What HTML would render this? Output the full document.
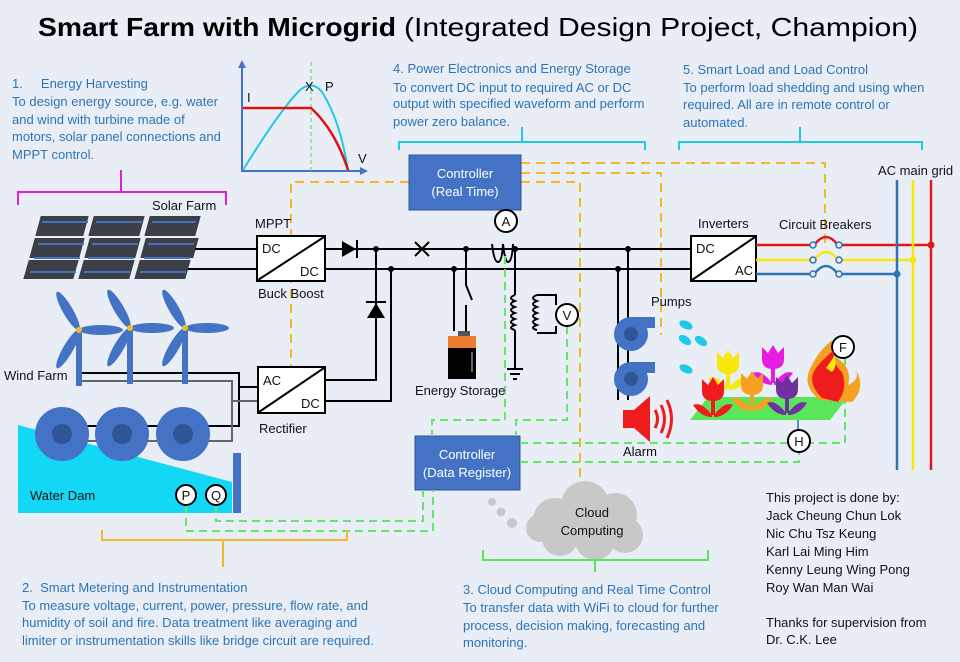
<!DOCTYPE html>
<html><head><meta charset="utf-8"><style>
html,body{margin:0;padding:0;background:#e9eef6;}
svg{display:block;font-family:"Liberation Sans",sans-serif;}
.t{fill:#2e74b5;font-size:13px;}
.k{fill:#111;font-size:13px;}
.w{fill:#fff;font-size:13px;}
</style></head><body>
<svg width="960" height="662" viewBox="0 0 960 662" xmlns="http://www.w3.org/2000/svg">
<defs>
<g id="tulip">
<path d="M-2,10 L2,10 L2,26 L-2,26Z"/>
<path d="M-1,26 Q-12,12 -20,16 Q-12,28 -1,28Z"/>
<path d="M1,26 Q12,12 20,16 Q12,28 1,28Z"/>
<path d="M-11,-10 L-11,2 Q-11,12 0,12 Q11,12 11,2 L11,-10 L5,-4 L0,-12 L-5,-4Z"/>
</g>
<g id="turb">
<rect x="-3" y="0" width="6" height="56" fill="#4472c4"/>
<ellipse cx="0" cy="-22" rx="5" ry="22" fill="#4472c4" transform="rotate(-30)"/>
<ellipse cx="0" cy="-22" rx="5" ry="22" fill="#4472c4" transform="rotate(90)"/>
<ellipse cx="0" cy="-22" rx="5" ry="22" fill="#4472c4" transform="rotate(210)"/>
<circle r="3" fill="#f0c020"/>
</g>
</defs>

<text x="38" y="36" font-size="26" font-weight="bold" fill="#000" textLength="358" lengthAdjust="spacingAndGlyphs">Smart Farm with Microgrid</text>
<text x="404" y="36" font-size="26" fill="#000" textLength="514" lengthAdjust="spacingAndGlyphs">(Integrated Design Project, Champion)</text>

<text class="t"><tspan x="12" y="88">1.&#160;&#160;&#160;&#160;&#160;Energy Harvesting</tspan><tspan x="12" y="106">To design energy source, e.g. water</tspan><tspan x="12" y="124">and wind with turbine made of</tspan><tspan x="12" y="141">motors, solar panel connections and</tspan><tspan x="12" y="159">MPPT control.</tspan></text>

<g>
<line x1="242" y1="172" x2="242" y2="64" stroke="#4472c4" stroke-width="2"/>
<path d="M238,68 L242,60 L246,68Z" fill="#4472c4"/>
<line x1="242" y1="171" x2="362" y2="171" stroke="#4472c4" stroke-width="2"/>
<path d="M360,167 L368,171 L360,175Z" fill="#4472c4"/>
<line x1="311" y1="62" x2="311" y2="172" stroke="#5ad35a" stroke-width="1" stroke-dasharray="4,3"/>
<path d="M243,170 Q280,110 300,90 Q312,80 322,92 Q340,120 348,170" fill="none" stroke="#22c8e8" stroke-width="2"/>
<path d="M243,108 L311,108 Q335,130 348,170" fill="none" stroke="#e01010" stroke-width="2.5"/>
<text x="247" y="102" class="k" font-size="13">I</text>
<text x="305" y="91" class="k" font-size="12">X</text>
<text x="325" y="91" class="k" font-size="13">P</text>
<text x="358" y="163" class="k" font-size="13">V</text>
</g>

<text class="t"><tspan x="393" y="73">4. Power Electronics and Energy Storage</tspan><tspan x="393" y="92">To convert DC input to required AC or DC</tspan><tspan x="393" y="108">output with specified waveform and perform</tspan><tspan x="393" y="126">power zero balance.</tspan></text>
<path d="M399,150 L399,142 L645,142 L645,150 M522,142 L522,127" fill="none" stroke="#22c8e8" stroke-width="2"/>

<text class="t"><tspan x="683" y="74">5. Smart Load and Load Control</tspan><tspan x="683" y="92">To perform load shedding and using when</tspan><tspan x="683" y="109">required. All are in remote control or</tspan><tspan x="683" y="127">automated.</tspan></text>
<path d="M679,150 L679,142 L922,142 L922,150 M800,142 L800,127" fill="none" stroke="#22c8e8" stroke-width="2"/>

<path d="M18,205 L18,192 L226,192 L226,205 M121,192 L121,170" fill="none" stroke="#e020d0" stroke-width="2"/>
<text x="152" y="210" class="k">Solar Farm</text>

<g fill="#3c3f45" stroke="#e9eef6" stroke-width="2">
<polygon points="40,215 90,215 84,237 34,237"/><polygon points="93,215 146,215 140,237 87,237"/><polygon points="149,215 202,215 196,237 143,237"/>
<polygon points="34,237 86,237 80,259 28,259"/><polygon points="89,237 142,237 136,259 83,259"/><polygon points="145,237 200,237 194,259 139,259"/>
<polygon points="28,259 80,259 74,280 22,280"/><polygon points="83,259 136,259 130,280 77,280"/><polygon points="139,259 192,259 186,280 133,280"/>
</g>
<g stroke="#4472c4" stroke-width="2">
<line x1="42" y1="222" x2="88" y2="222"/><line x1="96" y1="222" x2="142" y2="222"/><line x1="152" y1="222" x2="196" y2="222"/>
<line x1="38" y1="244" x2="84" y2="244"/><line x1="92" y1="244" x2="138" y2="244"/><line x1="148" y1="244" x2="194" y2="244"/>
<line x1="34" y1="258" x2="80" y2="258"/><line x1="88" y1="258" x2="134" y2="258"/><line x1="144" y1="258" x2="190" y2="258"/>
<line x1="30" y1="272" x2="76" y2="272"/><line x1="84" y1="272" x2="130" y2="272"/><line x1="140" y1="272" x2="186" y2="272"/>
</g>

<g fill="none" stroke="#f5b829" stroke-width="2" stroke-dasharray="9,6">
<path d="M409,182 L291,182 L291,367"/>
<path d="M521,182 L580,182 L580,492"/>
<path d="M506,173 L661,173 L661,335"/>
<path d="M521,163 L825,163 L825,244"/>
</g>

<!-- Water dam (behind wires) -->
<polygon points="18,425 232,482 232,513 18,513" fill="#12d8f5"/>
<rect x="233" y="453" width="8" height="60" fill="#4472c4"/>

<g fill="none" stroke="#000" stroke-width="2">
<line x1="195" y1="249" x2="257" y2="249"/>
<line x1="188" y1="269" x2="257" y2="269"/>
<line x1="325" y1="249" x2="691" y2="249"/>
<line x1="325" y1="269" x2="691" y2="269"/>
<path d="M376,249 L376,380 L325,380"/>
<path d="M391,269 L391,401 L325,401"/>
<path d="M82,373 L239,373 L239,426 L62,426"/>
<line x1="239" y1="387" x2="258" y2="387"/>
<path d="M454,269 L454,331"/>
<path d="M466,249 L466,285 L472,300"/>
<line x1="466" y1="305" x2="466" y2="331"/>
<path d="M515,249 L515,295"/>
<path d="M515,330 L515,368"/>
<path d="M628,249 L628,400"/>
<path d="M618,269 L618,400"/>
<path d="M537,295 L556,295 L556,305 M537,333 L556,333 L556,326"/>
</g>
<g fill="none" stroke="#666" stroke-width="2">
<path d="M82,381 L232,381 L232,441 L62,441"/>
<line x1="232" y1="401" x2="258" y2="401"/>
</g>
<g fill="#000">
<circle cx="376" cy="249" r="3"/><circle cx="391" cy="269" r="3"/><circle cx="466" cy="249" r="3"/><circle cx="454" cy="269" r="3"/>
<circle cx="515" cy="249" r="3"/><circle cx="628" cy="249" r="3"/><circle cx="618" cy="269" r="3"/>
</g>
<path d="M342,241 L356,249 L342,257Z" fill="#000"/><line x1="357" y1="240" x2="357" y2="258" stroke="#000" stroke-width="2"/>
<path d="M367,318 L376,303 L385,318Z" fill="#000"/><line x1="366" y1="302" x2="386" y2="302" stroke="#000" stroke-width="2"/>
<path d="M415,242 L429,256 M429,242 L415,256" stroke="#000" stroke-width="2"/>
<path d="M492,244 Q494,262 498,262 Q502,262 503,244 M503,244 Q505,262 508,262 Q512,262 513,244" fill="none" stroke="#000" stroke-width="2"/>
<path d="M515,295 q-8,3 0,6 q-8,3 0,6 q-8,3 0,6 q-8,3 0,6 q-8,3 0,6 q-8,3 0,5" fill="none" stroke="#000" stroke-width="2"/>
<path d="M537,295 q-8,3 0,6 q-8,3 0,6 q-8,3 0,6 q-8,3 0,6 q-8,3 0,6 q-8,3 0,5" fill="none" stroke="#000" stroke-width="2"/>
<path d="M507,369 L523,369 M510,374 L520,374 M513,379 L517,379" stroke="#000" stroke-width="2"/>

<g fill="#fff" stroke="#000" stroke-width="2">
<rect x="257" y="236" width="68" height="45"/><line x1="258" y1="280" x2="324" y2="237"/>
<rect x="258" y="367" width="67" height="46"/><line x1="259" y1="412" x2="324" y2="368"/>
<rect x="691" y="236" width="65" height="45"/><line x1="692" y1="280" x2="755" y2="237"/>
</g>
<text x="262" y="253" class="k">DC</text><text x="300" y="276" class="k">DC</text>
<text x="263" y="385" class="k">AC</text><text x="301" y="408" class="k">DC</text>
<text x="696" y="253" class="k">DC</text><text x="735" y="275" class="k">AC</text>
<text x="255" y="228" class="k">MPPT</text>
<text x="258" y="298" class="k">Buck Boost</text>
<text x="259" y="433" class="k">Rectifier</text>
<text x="698" y="228" class="k">Inverters</text>
<text x="779" y="229" class="k">Circuit Breakers</text>
<text x="878" y="175" class="k">AC main grid</text>

<g fill="none" stroke-width="2.5">
<path d="M756,245 L812,245 M840,245 L931,245" stroke="#e01818"/>
<path d="M815,244 Q826,230 837,244" stroke="#e01818"/>
<path d="M756,260 L812,260 M840,260 L913,260" stroke="#f5e80a"/>
<path d="M815,259 Q826,245 837,259" stroke="#f5e80a"/>
<path d="M756,274 L812,274 M840,274 L897,274" stroke="#2e74b5"/>
<path d="M815,273 Q826,259 837,273" stroke="#2e74b5"/>
<line x1="897" y1="180" x2="897" y2="470" stroke="#2e74b5"/>
<line x1="913" y1="180" x2="913" y2="470" stroke="#f5e80a"/>
<line x1="931" y1="180" x2="931" y2="470" stroke="#e01818"/>
</g>
<g fill="#e9eef6" stroke-width="1.5"><circle cx="813" cy="245" r="3" stroke="#2e74b5"/><circle cx="839" cy="245" r="3" stroke="#2e74b5"/><circle cx="813" cy="260" r="3" stroke="#2e74b5"/><circle cx="839" cy="260" r="3" stroke="#2e74b5"/><circle cx="813" cy="274" r="3" stroke="#2e74b5"/><circle cx="839" cy="274" r="3" stroke="#2e74b5"/></g>
<circle cx="931" cy="245" r="3.5" fill="#e01818"/><circle cx="913" cy="260" r="3.5" fill="#f5e80a"/><circle cx="897" cy="274" r="3.5" fill="#2e74b5"/>

<rect x="409" y="155" width="112" height="55" fill="#4472c4" stroke="#2f5597"/>
<text x="465" y="178" class="w" text-anchor="middle">Controller</text>
<text x="465" y="196" class="w" text-anchor="middle">(Real Time)</text>
<rect x="415" y="436" width="105" height="54" fill="#4472c4" stroke="#2f5597"/>
<text x="467" y="459" class="w" text-anchor="middle">Controller</text>
<text x="467" y="477" class="w" text-anchor="middle">(Data Register)</text>

<g fill="none" stroke="#66e566" stroke-width="2" stroke-dasharray="8,5">
<path d="M505,256 L505,420 L432,420 L432,436"/>
<path d="M567,326 L567,420 L516,420 L516,436"/>
<path d="M520,443 L845,443 L845,358"/>
<path d="M520,462 L799,462 L799,452"/>
<path d="M186,505 L186,531 L433,531 L433,490"/>
<path d="M216,505 L216,521 L423,521 L423,490"/>
</g>
<line x1="798" y1="420" x2="798" y2="430" stroke="#2e74b5" stroke-width="1.5"/>

<g fill="#fff" stroke="#000" stroke-width="2">
<circle cx="506" cy="221" r="11"/><circle cx="567" cy="315" r="11"/>
<circle cx="186" cy="495" r="10"/><circle cx="216" cy="495" r="10"/>
<circle cx="843" cy="347" r="11"/><circle cx="799" cy="441" r="11"/>
</g>
<text x="506" y="226" class="k" text-anchor="middle">A</text>
<text x="567" y="320" class="k" text-anchor="middle">V</text>
<text x="186" y="500" class="k" text-anchor="middle" font-size="12">P</text>
<text x="216" y="500" class="k" text-anchor="middle" font-size="12">Q</text>
<text x="843" y="352" class="k" text-anchor="middle">F</text>
<text x="799" y="446" class="k" text-anchor="middle">H</text>

<rect x="458" y="331" width="12" height="5" fill="#555"/>
<rect x="448" y="336" width="28" height="12" fill="#ed7d31"/>
<rect x="448" y="348" width="28" height="31" fill="#000"/>
<line x1="472" y1="352" x2="472" y2="372" stroke="#888" stroke-width="1.5"/>
<text x="415" y="395" class="k">Energy Storage</text>

<use href="#turb" x="79" y="330"/>
<use href="#turb" x="130" y="328"/>
<use href="#turb" x="185" y="328"/>
<text x="4" y="380" class="k">Wind Farm</text>

<g fill="#4472c4"><circle cx="62" cy="434" r="27"/><circle cx="122" cy="434" r="27"/><circle cx="183" cy="434" r="27"/></g>
<g fill="#2f5597"><circle cx="62" cy="434" r="10"/><circle cx="122" cy="434" r="10"/><circle cx="183" cy="434" r="10"/></g>
<g stroke-width="2"><line x1="89" y1="426" x2="95" y2="426" stroke="#000"/><line x1="149" y1="426" x2="156" y2="426" stroke="#000"/><line x1="89" y1="441" x2="95" y2="441" stroke="#666"/><line x1="149" y1="441" x2="156" y2="441" stroke="#666"/></g>
<text x="30" y="500" class="k">Water Dam</text>

<g fill="#4472c4">
<circle cx="631" cy="334" r="17"/><rect x="631" y="317" width="24" height="11"/>
<circle cx="631" cy="379" r="17"/><rect x="631" y="362" width="24" height="11"/>
</g>
<g fill="#2f5597"><circle cx="631" cy="334" r="7"/><circle cx="631" cy="379" r="7"/></g>
<text x="651" y="306" class="k">Pumps</text>
<g fill="#22c8e8">
<ellipse cx="686" cy="325" rx="7" ry="4" transform="rotate(25 686 325)"/>
<ellipse cx="685" cy="340" rx="7" ry="4" transform="rotate(35 685 340)"/>
<ellipse cx="701" cy="341" rx="7" ry="4" transform="rotate(35 701 341)"/>
<ellipse cx="686" cy="369" rx="7" ry="4" transform="rotate(25 686 369)"/>
</g>
<path d="M623,410 L634,410 L650,396 L650,442 L634,428 L623,428Z" fill="#ee1c1c"/>
<path d="M655,410 Q660,419 655,428 M661,405 Q668,419 661,433 M667,400 Q676,419 667,438" fill="none" stroke="#ee1c1c" stroke-width="3"/>
<text x="623" y="456" class="k">Alarm</text>

<polygon points="690,420 708,397 848,397 830,420" fill="#5ae65a"/>
<use href="#tulip" x="728" y="362" fill="#f5e80a"/>
<use href="#tulip" x="773" y="357" fill="#e81ce0"/>
<use href="#tulip" x="713" y="389" fill="#ee1c1c"/>
<use href="#tulip" x="752" y="383" fill="#f5a020"/>
<use href="#tulip" x="787" y="387" fill="#7030a0"/>
<path d="M820,400 Q800,385 812,365 Q818,352 832,340 Q828,355 840,360 Q852,370 848,385 Q860,380 856,370 Q866,388 852,402Z" fill="#f5a020"/>
<path d="M822,398 Q806,382 816,368 Q822,360 834,350 Q832,364 842,372 Q848,388 838,402Z" fill="#ee1c1c"/>
<path d="M826,368 Q832,360 834,356 Q838,366 832,372Z" fill="#f5e80a"/>

<g fill="#c8c8c8">
<circle cx="555" cy="520" r="22"/><circle cx="585" cy="505" r="24"/><circle cx="615" cy="515" r="22"/><circle cx="625" cy="535" r="18"/><circle cx="595" cy="540" r="20"/><circle cx="560" cy="538" r="18"/><circle cx="540" cy="528" r="14"/>
<circle cx="492" cy="502" r="4"/><circle cx="501" cy="512" r="4.5"/><circle cx="512" cy="523" r="5"/>
</g>
<text x="592" y="517" class="k" text-anchor="middle">Cloud</text>
<text x="592" y="535" class="k" text-anchor="middle">Computing</text>

<path d="M102,530 L102,540 L347,540 L347,530 M223,540 L223,567" fill="none" stroke="#f5b829" stroke-width="2"/>
<path d="M483,550 L483,560 L708,560 L708,550 M595,560 L595,572" fill="none" stroke="#5ae65a" stroke-width="2"/>

<text class="t"><tspan x="22" y="592">2.&#160;&#160;Smart Metering and Instrumentation</tspan><tspan x="22" y="610">To measure voltage, current, power, pressure, flow rate, and</tspan><tspan x="22" y="627">humidity of soil and fire. Data treatment like averaging and</tspan><tspan x="22" y="645">limiter or instrumentation skills like bridge circuit are required.</tspan></text>
<text class="t"><tspan x="463" y="594">3. Cloud Computing and Real Time Control</tspan><tspan x="463" y="612">To transfer data with WiFi to cloud for further</tspan><tspan x="463" y="630">process, decision making, forecasting and</tspan><tspan x="463" y="647">monitoring.</tspan></text>

<text class="k"><tspan x="766" y="502">This project is done by:</tspan><tspan x="766" y="520">Jack Cheung Chun Lok</tspan><tspan x="766" y="538">Nic Chu Tsz Keung</tspan><tspan x="766" y="556">Karl Lai Ming Him</tspan><tspan x="766" y="574">Kenny Leung Wing Pong</tspan><tspan x="766" y="592">Roy Wan Man Wai</tspan><tspan x="766" y="627">Thanks for supervision from</tspan><tspan x="766" y="644">Dr. C.K. Lee</tspan></text>
</svg>
</body></html>
